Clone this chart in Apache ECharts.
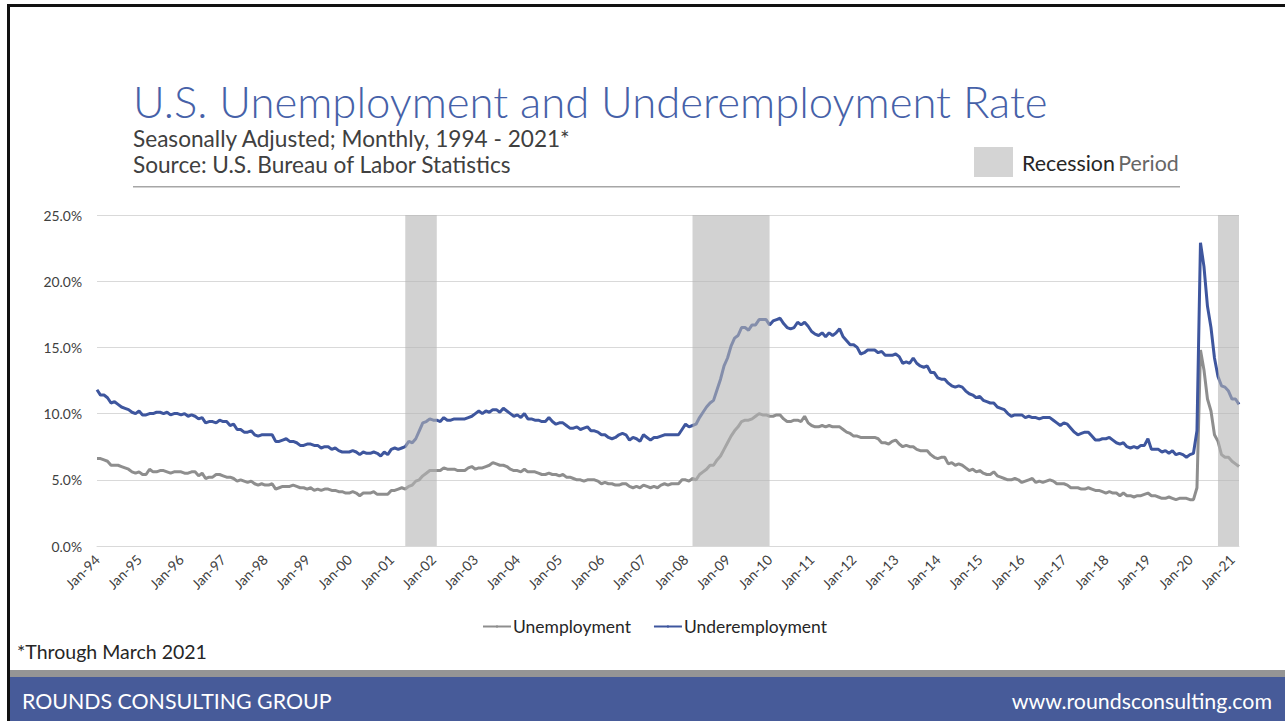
<!DOCTYPE html>
<html>
<head>
<meta charset="utf-8">
<title>U.S. Unemployment and Underemployment Rate</title>
<script src="https://cdn.jsdelivr.net/npm/echarts@6/dist/echarts.min.js"></script>
<style>
  html, body { margin: 0; padding: 0; background: #ffffff; }
  #chart { width: 1285px; height: 721px; }
</style>
</head>
<body>
<div id="chart"></div>
<script>
// Monthly labels, Jan 1994 through Mar 2021
const monthNames = ['Jan','Feb','Mar','Apr','May','Jun','Jul','Aug','Sep','Oct','Nov','Dec'];
const firstYear = 1994;
const lastYear = 2021;
const lastMonthOfLastYear = 3;

// Unemployment rate (U-3), percent, seasonally adjusted
const unemployment = [
  6.6, 6.6, 6.5, 6.4, 6.1, 6.1, 6.1, 6.0, 5.9, 5.8, 5.6, 5.5,   // 1994
  5.6, 5.4, 5.4, 5.8, 5.6, 5.6, 5.7, 5.7, 5.6, 5.5, 5.6, 5.6,   // 1995
  5.6, 5.5, 5.5, 5.6, 5.6, 5.3, 5.5, 5.1, 5.2, 5.2, 5.4, 5.4,   // 1996
  5.3, 5.2, 5.2, 5.1, 4.9, 5.0, 4.9, 4.8, 4.9, 4.7, 4.6, 4.7,   // 1997
  4.6, 4.6, 4.7, 4.3, 4.4, 4.5, 4.5, 4.5, 4.6, 4.5, 4.4, 4.4,   // 1998
  4.3, 4.4, 4.2, 4.3, 4.2, 4.3, 4.3, 4.2, 4.2, 4.1, 4.1, 4.0,   // 1999
  4.0, 4.1, 4.0, 3.8, 4.0, 4.0, 4.0, 4.1, 3.9, 3.9, 3.9, 3.9,   // 2000
  4.2, 4.2, 4.3, 4.4, 4.3, 4.5, 4.6, 4.9, 5.0, 5.3, 5.5, 5.7,   // 2001
  5.7, 5.7, 5.7, 5.9, 5.8, 5.8, 5.8, 5.7, 5.7, 5.7, 5.9, 6.0,   // 2002
  5.8, 5.9, 5.9, 6.0, 6.1, 6.3, 6.2, 6.1, 6.1, 6.0, 5.8, 5.7,   // 2003
  5.7, 5.6, 5.8, 5.6, 5.6, 5.6, 5.5, 5.4, 5.4, 5.5, 5.4, 5.4,   // 2004
  5.3, 5.4, 5.2, 5.2, 5.1, 5.0, 5.0, 4.9, 5.0, 5.0, 5.0, 4.9,   // 2005
  4.7, 4.8, 4.7, 4.7, 4.6, 4.6, 4.7, 4.7, 4.5, 4.4, 4.5, 4.4,   // 2006
  4.6, 4.5, 4.4, 4.5, 4.4, 4.6, 4.7, 4.6, 4.7, 4.7, 4.7, 5.0,   // 2007
  5.0, 4.9, 5.1, 5.0, 5.4, 5.6, 5.8, 6.1, 6.1, 6.5, 6.8, 7.3,   // 2008
  7.8, 8.3, 8.7, 9.0, 9.4, 9.5, 9.5, 9.6, 9.8, 10.0, 9.9, 9.9,  // 2009
  9.8, 9.8, 9.9, 9.9, 9.6, 9.4, 9.4, 9.5, 9.5, 9.4, 9.8, 9.3,   // 2010
  9.1, 9.0, 9.0, 9.1, 9.0, 9.1, 9.0, 9.0, 9.0, 8.8, 8.6, 8.5,   // 2011
  8.3, 8.3, 8.2, 8.2, 8.2, 8.2, 8.2, 8.1, 7.8, 7.8, 7.7, 7.9,   // 2012
  8.0, 7.7, 7.5, 7.6, 7.5, 7.5, 7.3, 7.2, 7.2, 7.2, 6.9, 6.7,   // 2013
  6.6, 6.7, 6.7, 6.2, 6.3, 6.1, 6.2, 6.1, 5.9, 5.7, 5.8, 5.6,   // 2014
  5.7, 5.5, 5.4, 5.4, 5.6, 5.3, 5.2, 5.1, 5.0, 5.0, 5.1, 5.0,   // 2015
  4.8, 4.9, 5.0, 5.1, 4.8, 4.9, 4.8, 4.9, 5.0, 4.9, 4.7, 4.7,   // 2016
  4.7, 4.6, 4.4, 4.4, 4.4, 4.3, 4.3, 4.4, 4.3, 4.2, 4.2, 4.1,   // 2017
  4.0, 4.1, 4.0, 4.0, 3.8, 4.0, 3.8, 3.8, 3.7, 3.8, 3.8, 3.9,   // 2018
  4.0, 3.8, 3.8, 3.7, 3.6, 3.6, 3.7, 3.6, 3.5, 3.6, 3.6, 3.6,   // 2019
  3.5, 3.5, 4.4, 14.8, 13.3, 11.1, 10.2, 8.4, 7.9, 6.9, 6.7, 6.7, // 2020
  6.4, 6.2, 6.0                                                 // 2021
];

// Underemployment rate (U-6), percent, seasonally adjusted
const underemployment = [
  11.8, 11.4, 11.4, 11.2, 10.8, 10.9, 10.7, 10.5, 10.4, 10.3, 10.1, 10.0, // 1994
  10.2, 9.9, 9.9, 10.0, 10.0, 10.1, 10.1, 10.0, 10.1, 9.9, 10.0, 10.0,    // 1995
  9.9, 10.0, 9.8, 9.9, 9.8, 9.6, 9.7, 9.3, 9.4, 9.4, 9.3, 9.5,            // 1996
  9.4, 9.4, 9.1, 9.2, 8.8, 8.8, 8.6, 8.6, 8.7, 8.4, 8.3, 8.4,             // 1997
  8.4, 8.4, 8.4, 7.9, 7.9, 8.0, 8.1, 7.9, 7.9, 7.8, 7.6, 7.6,             // 1998
  7.7, 7.7, 7.6, 7.6, 7.4, 7.5, 7.5, 7.3, 7.4, 7.2, 7.1, 7.1,             // 1999
  7.1, 7.2, 7.1, 6.9, 7.1, 7.0, 7.0, 7.1, 7.0, 6.8, 7.1, 6.9,             // 2000
  7.3, 7.4, 7.3, 7.4, 7.5, 7.9, 7.8, 8.1, 8.7, 9.3, 9.4, 9.6,             // 2001
  9.5, 9.5, 9.4, 9.7, 9.5, 9.5, 9.6, 9.6, 9.6, 9.6, 9.7, 9.8,             // 2002
  10.0, 10.2, 10.0, 10.2, 10.1, 10.3, 10.3, 10.1, 10.4, 10.2, 10.0, 9.8,  // 2003
  9.9, 9.7, 10.0, 9.6, 9.6, 9.5, 9.5, 9.4, 9.4, 9.7, 9.4, 9.2,            // 2004
  9.3, 9.3, 9.1, 8.9, 8.9, 9.0, 8.8, 8.9, 9.0, 8.7, 8.7, 8.6,             // 2005
  8.4, 8.4, 8.2, 8.1, 8.2, 8.4, 8.5, 8.4, 8.0, 8.2, 8.1, 7.9,             // 2006
  8.4, 8.2, 8.0, 8.2, 8.2, 8.3, 8.4, 8.4, 8.4, 8.4, 8.4, 8.8,             // 2007
  9.2, 9.0, 9.1, 9.2, 9.7, 10.1, 10.5, 10.8, 11.0, 11.8, 12.6, 13.6,      // 2008
  14.2, 15.1, 15.7, 15.9, 16.5, 16.5, 16.3, 16.7, 16.7, 17.1, 17.1, 17.1, // 2009
  16.7, 17.0, 17.1, 17.2, 16.8, 16.5, 16.4, 16.5, 16.9, 16.7, 16.9, 16.6, // 2010
  16.2, 16.0, 15.9, 16.1, 15.8, 16.1, 15.9, 16.1, 16.4, 15.8, 15.5, 15.2, // 2011
  15.2, 15.0, 14.5, 14.6, 14.8, 14.8, 14.8, 14.6, 14.7, 14.4, 14.4, 14.4, // 2012
  14.5, 14.3, 13.8, 13.9, 13.8, 14.2, 13.8, 13.6, 13.5, 13.6, 13.1, 13.1, // 2013
  12.7, 12.6, 12.6, 12.3, 12.1, 12.0, 12.1, 12.0, 11.7, 11.5, 11.4, 11.2, // 2014
  11.3, 11.0, 10.9, 10.8, 10.8, 10.5, 10.4, 10.3, 10.0, 9.8, 9.9, 9.9,    // 2015
  9.9, 9.7, 9.8, 9.7, 9.7, 9.6, 9.7, 9.7, 9.7, 9.5, 9.3, 9.1,             // 2016
  9.3, 9.2, 8.9, 8.6, 8.4, 8.5, 8.6, 8.6, 8.3, 8.0, 8.0, 8.1,             // 2017
  8.1, 8.2, 8.0, 7.8, 7.7, 7.8, 7.5, 7.4, 7.5, 7.4, 7.6, 7.6,             // 2018
  8.1, 7.3, 7.3, 7.3, 7.1, 7.2, 7.0, 7.2, 6.9, 7.0, 6.9, 6.7,             // 2019
  6.9, 7.0, 8.7, 22.9, 21.1, 18.1, 16.5, 14.2, 12.8, 12.1, 12.0, 11.7,    // 2020
  11.1, 11.1, 10.7                                                        // 2021
];

// Shaded recession periods (start and end month labels)
const recessionStarts = ['May-01', 'Mar-08', 'Sep-20'];
const recessionEnds   = ['Feb-02', 'Jan-10', 'Mar-21'];

// Y-axis scale, percent
const yMin = 0, yMax = 25, yStep = 5;

const months = [];
for (let y = firstYear; y <= lastYear; y++) {
  const maxM = (y === lastYear) ? lastMonthOfLastYear : 12;
  for (let m = 0; m < maxM; m++) {
    months.push(monthNames[m] + '-' + String(y).slice(2));
  }
}

const FONT = 'Lato, "Open Sans", "Noto Sans", sans-serif';
const BLUE = '#3E569E';
const GREY = '#8E8E8E';

// Font size that makes a string span a given pixel width
const measureCtx = document.createElement('canvas').getContext('2d');
function fitSize(text, weight, width) {
  measureCtx.font = weight + ' 100px ' + FONT;
  return 100 * width / measureCtx.measureText(text).width;
}
// Text is placed by its vertical centre, which sits about a third of an em above the baseline
const centreFromBaseline = (baseline, size) => baseline - 0.33 * size;

const titleText = 'U.S. Unemployment and Underemployment Rate';
const subText = 'Seasonally Adjusted; Monthly, 1994 - 2021*';
const srcText = 'Source: U.S. Bureau of Labor Statistics';
const noteText = '*Through March 2021';
const brandText = 'ROUNDS CONSULTING GROUP';
const webText = 'www.roundsconsulting.com';

const titleSize = fitSize(titleText, 300, 915);
const subSize = (fitSize(subText, 400, 439) + fitSize(srcText, 400, 378)) / 2;
const recSize = fitSize('Recession Period', 400, 159);
const noteSize = fitSize(noteText, 400, 190);
const footSize = (fitSize(brandText, 400, 296) + fitSize(webText, 400, 272)) / 2;
const legendSize = fitSize('Unemployment', 400, 118);
const axisSize = fitSize('25.0%', 400, 38.5);

const chart = echarts.init(document.getElementById('chart'), null, { renderer: 'svg' });

chart.setOption({
  backgroundColor: '#ffffff',
  animation: false,
  textStyle: { fontFamily: FONT },
  grid: { left: 97, right: 46, top: 215, bottom: 175, containLabel: false },
  legend: {
    data: ['Unemployment', 'Underemployment'],
    left: 477,
    top: 613,
    itemWidth: 28,
    itemHeight: 3,
    itemGap: 22,
    textStyle: { fontFamily: FONT, fontSize: legendSize, color: '#262626', padding: [0, 0, 0, -3] }
  },
  xAxis: {
    type: 'category',
    data: months,
    boundaryGap: false,
    axisLine: { show: true, lineStyle: { color: '#D9D9D9', width: 1 } },
    axisTick: { show: false },
    splitLine: { show: false },
    axisLabel: {
      interval: 11,
      rotate: 45,
      margin: 11,
      fontFamily: FONT,
      fontSize: axisSize,
      color: '#404040'
    }
  },
  yAxis: {
    type: 'value',
    min: yMin,
    max: yMax,
    interval: yStep,
    axisLine: { show: false },
    axisTick: { show: false },
    splitLine: { lineStyle: { color: '#D9D9D9', width: 1 } },
    axisLabel: {
      margin: 15,
      fontFamily: FONT,
      fontSize: axisSize,
      color: '#404040',
      formatter: v => v.toFixed(1) + '%'
    }
  },
  series: [
    {
      name: 'Unemployment',
      type: 'line',
      data: unemployment,
      symbol: 'none',
      z: 3,
      lineStyle: { color: GREY, width: 3 },
      itemStyle: { color: GREY }
    },
    {
      name: 'Underemployment',
      type: 'line',
      data: underemployment,
      symbol: 'none',
      z: 4,
      lineStyle: { color: BLUE, width: 3 },
      itemStyle: { color: BLUE }
    },
    {
      // translucent recession bands laid over the lines
      name: 'Recession',
      type: 'line',
      data: [],
      symbol: 'none',
      z: 10,
      markArea: {
        silent: true,
        z: 10,
        itemStyle: { color: 'rgba(180,180,180,0.6)' },
        data: recessionStarts.map((s, i) => [{ xAxis: s }, { xAxis: recessionEnds[i] }])
      }
    }
  ],
  graphic: [
    // frame
    { type: 'rect', left: 7, top: 4, shape: { width: 1278, height: 3 }, style: { fill: '#111111' }, silent: true },
    { type: 'rect', left: 7, top: 4, shape: { width: 3, height: 717 }, style: { fill: '#111111' }, silent: true },
    // footer bands
    { type: 'rect', left: 10, top: 670, shape: { width: 1275, height: 7 }, style: { fill: '#959595' }, silent: true },
    { type: 'rect', left: 10, top: 677, shape: { width: 1275, height: 44 }, style: { fill: '#475B99' }, silent: true },
    // header rule
    { type: 'rect', left: 133, top: 186, shape: { width: 1047, height: 1.5 }, style: { fill: '#A6A6A6' }, silent: true },
    // recession legend swatch
    { type: 'rect', left: 974, top: 147, shape: { width: 39, height: 30 }, style: { fill: '#D4D4D4' }, silent: true },
    // header texts
    { type: 'text', x: 133, y: centreFromBaseline(115, titleSize), style: { text: titleText, fill: '#4661A8',
        font: '300 ' + titleSize + 'px ' + FONT, textVerticalAlign: 'middle' } },
    { type: 'text', x: 133, y: centreFromBaseline(146, subSize), style: { text: subText, fill: '#404040',
        font: subSize + 'px ' + FONT, textVerticalAlign: 'middle' } },
    { type: 'text', x: 133, y: centreFromBaseline(172, subSize), style: { text: srcText, fill: '#404040',
        font: subSize + 'px ' + FONT, textVerticalAlign: 'middle' } },
    { type: 'text', x: 1022, y: centreFromBaseline(170, recSize), style: {
        text: '{a|Recession} {b|Period}',
        textVerticalAlign: 'middle',
        rich: {
          a: { fontFamily: FONT, fontSize: recSize, fill: '#262626', color: '#262626' },
          b: { fontFamily: FONT, fontSize: recSize, fill: '#666666', color: '#666666' }
        } } },
    // footnote and footer texts
    { type: 'text', x: 17, y: centreFromBaseline(658, noteSize), style: { text: noteText, fill: '#262626',
        font: noteSize + 'px ' + FONT, textVerticalAlign: 'middle' } },
    { type: 'text', x: 22, y: centreFromBaseline(708, footSize), style: { text: brandText, fill: '#ffffff',
        font: footSize + 'px ' + FONT, textVerticalAlign: 'middle' } },
    { type: 'text', x: 1272, y: centreFromBaseline(708, footSize), style: { text: webText, fill: '#ffffff',
        font: footSize + 'px ' + FONT, textAlign: 'right', textVerticalAlign: 'middle' } }
  ]
});
</script>
</body>
</html>
